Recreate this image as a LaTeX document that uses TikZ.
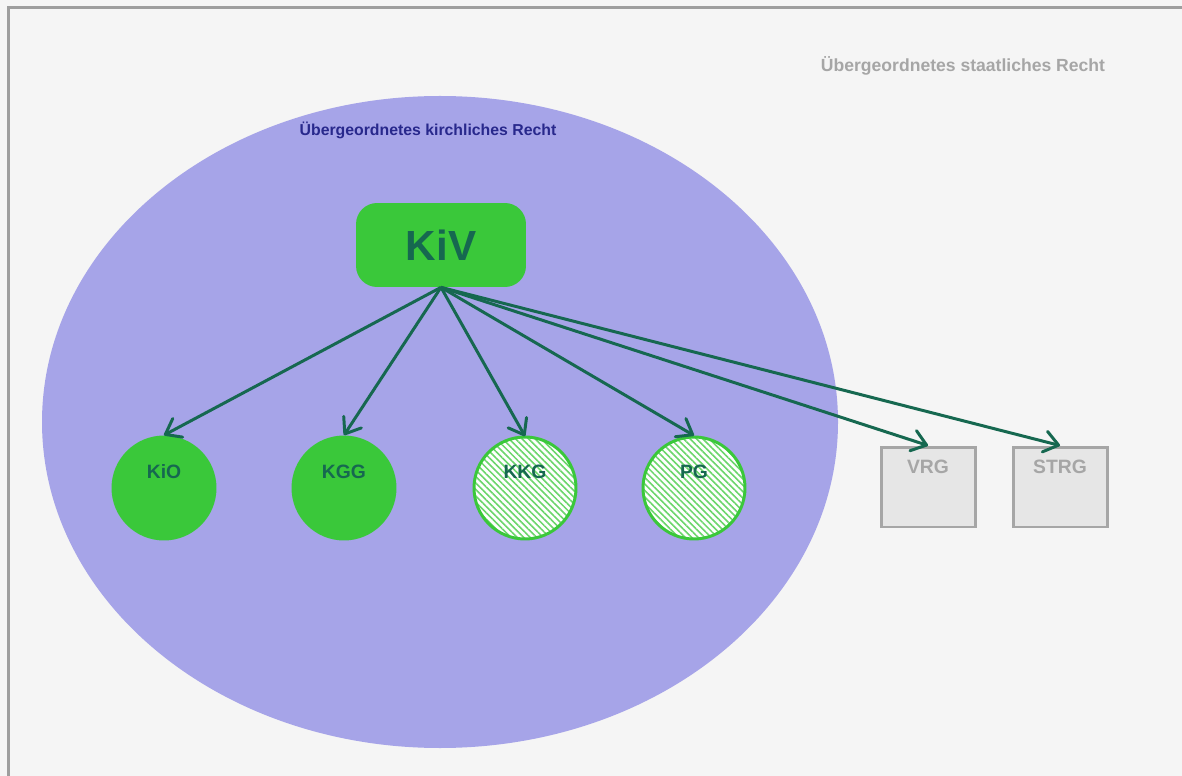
\documentclass[tikz,border=0pt]{standalone}
\usepackage{fontspec}
\setmainfont{Liberation Sans}
\usetikzlibrary{arrows.meta, patterns.meta}
\definecolor{paper}{RGB}{245,245,245}
\definecolor{framegrey}{RGB}{158,158,158}
\definecolor{churchblue}{RGB}{166,164,232}
\definecolor{churchtext}{RGB}{40,40,140}
\definecolor{lawgreen}{RGB}{58,200,58}
\definecolor{lawtext}{RGB}{22,104,80}
\definecolor{stategrey}{RGB}{166,166,166}
\definecolor{statefill}{RGB}{230,230,230}
\tikzset{
    law edge/.style = {draw=lawtext, line width=1.7pt, -{Straight Barb[length=8pt, width=12pt, round]}},
}
\tikzset{
    law/.style = {circle, minimum size=2.1cm, inner sep=0pt, fill=lawgreen},
    hatched law/.style = {circle, minimum size=2.04cm, inner sep=0pt, draw=lawgreen, line width=1.7pt,
        preaction={fill=white}, pattern={Lines[angle=-45, distance=2.6pt, line width=0.9pt]}, pattern color=lawgreen!75},
    law name/.style = {text=lawtext, font=\fontsize{11}{13}\bfseries, yshift=0.32cm},
    state law/.style = {rectangle, minimum width=1.88cm, minimum height=1.6cm, inner sep=0pt,
        draw=stategrey, fill=statefill, line width=1.7pt},
    state name/.style = {text=stategrey, font=\fontsize{11}{13}\bfseries, yshift=0.4cm},
}

\begin{document}
\begin{tikzpicture}[x=0.02cm, y=-0.02cm]
				\useasboundingbox (0, 0) rectangle (1182, 776);
				\clip (0, 0) rectangle (1182, 776);
				\fill[paper] (0, 0) rectangle (1182, 776);
				\draw[framegrey, line width=2.2pt] (8.5, 7.5) rectangle (1250, 850);
				\fill[churchblue] (440, 422) ellipse [x radius=398, y radius=326];

				\node[text=stategrey, font=\fontsize{10}{12}\bfseries] (state) at (963, 66) {Übergeordnetes staatliches Recht};
				\node[text=churchtext, font=\fontsize{9}{11}\bfseries] (church) at (428, 130) {Übergeordnetes kirchliches Recht};

				\node[rectangle, rounded corners=12pt, fill=lawgreen, minimum width=3.4cm, minimum height=1.68cm,
					text=lawtext, font=\fontsize{24}{28}\bfseries] (KiV) at (441, 245) {KiV};

				\node[law, label={[law name]center:KiO}] (KiO) at (164, 488) {};
				\node[law, label={[law name]center:KGG}] (KGG) at (344, 488) {};
				\node[hatched law, label={[law name]center:KKG}] (KKG) at (525, 488) {};
				\node[hatched law, label={[law name]center:PG}] (PG) at (694, 488) {};
				\node[state law, label={[state name]center:VRG}] (VRG) at (928, 487) {};
				\node[state law, label={[state name]center:STRG}] (STRG) at (1060, 487) {};

				\draw[law edge] (KiV.south) -- (KiO.north);
				\draw[law edge] (KiV.south) -- (KGG.north);
				\draw[law edge] (KiV.south) -- (KKG.north);
				\draw[law edge] (KiV.south) -- (PG.north);
				\draw[law edge] (KiV.south) -- (VRG.north);
				\draw[law edge] (KiV.south) -- (STRG.north);
			\end{tikzpicture}
\end{document}
